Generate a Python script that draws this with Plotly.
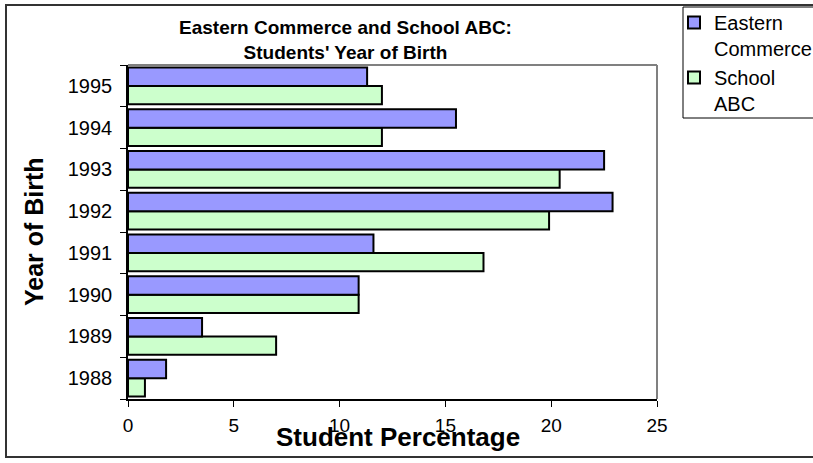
import plotly.graph_objects as go

years = ["1988", "1989", "1990", "1991", "1992", "1993", "1994", "1995"]
eastern = [1.8, 3.5, 10.9, 11.6, 22.9, 22.5, 15.5, 11.3]
school = [0.8, 7.0, 10.9, 16.8, 19.9, 20.4, 12.0, 12.0]
x_ticks = [0, 5, 10, 15, 20, 25]

W, H = 813, 463
L, R, T, B = 128, 657, 65, 399

def px(x):
    return (x - L) / (R - L)

def py(y):
    return (B - y) / (B - T)

FONT = "Liberation Sans, Arial, sans-serif"

fig = go.Figure()
fig.add_trace(go.Bar(
    y=years, x=school, orientation="h", name="School<br>ABC",
    marker=dict(color="#CCFFCC", line=dict(color="black", width=2)),
))
fig.add_trace(go.Bar(
    y=years, x=eastern, orientation="h", name="Eastern<br>Commerce",
    marker=dict(color="#9999FF", line=dict(color="black", width=2)),
))

fig.update_layout(
    width=W, height=H,
    margin=dict(l=L, r=W - R, t=T, b=H - B, autoexpand=False),
    paper_bgcolor="white", plot_bgcolor="white",
    barmode="group", bargap=0.12, bargroupgap=0,
    font=dict(family=FONT, size=16, color="black"),
    showlegend=True,
    legend=dict(
        x=px(674), y=py(3), xanchor="left", yanchor="top",
        traceorder="reversed", valign="top",
        font=dict(family=FONT, size=20, color="black"),
        bgcolor="rgba(0,0,0,0)", borderwidth=0,
        itemclick=False,
    ),
    xaxis=dict(
        range=[0, 25], tickvals=x_ticks, ticktext=[str(v) for v in x_ticks],
        showline=True, linecolor="black", linewidth=1.5,
        ticks="outside", ticklen=6, tickcolor="black", tickwidth=1,
        showgrid=False, zeroline=False, fixedrange=True,
        tickfont=dict(size=19), ticklabelstandoff=2,
    ),
    yaxis=dict(
        type="category", categoryorder="array", categoryarray=years,
        showline=True, linecolor="black", linewidth=1.5,
        ticks="outside", ticklen=6, tickcolor="black", tickwidth=1,
        tickson="boundaries", showgrid=False, zeroline=False,
        tickfont=dict(size=20), ticklabelstandoff=10, fixedrange=True,
    ),
    annotations=[
        dict(text="<b>Eastern Commerce and School ABC:<br>Students' Year of Birth</b>",
             xref="paper", yref="paper", x=px(345), y=py(40), showarrow=False,
             font=dict(family=FONT, size=19), xanchor="center", yanchor="middle"),
        dict(text="<b>Student Percentage</b>", xref="paper", yref="paper",
             x=px(398), y=py(437), showarrow=False,
             font=dict(family=FONT, size=26), xanchor="center", yanchor="middle"),
        dict(text="<b>Year of Birth</b>", xref="paper", yref="paper",
             x=px(34), y=py(232), showarrow=False, textangle=-90,
             font=dict(family=FONT, size=25), xanchor="center", yanchor="middle"),
    ],
    shapes=[
        # outer chart border
        dict(type="rect", xref="paper", yref="paper", x0=px(6), x1=px(830),
             y0=py(457), y1=py(5), line=dict(color="#333333", width=2), layer="below"),
        # legend box
        dict(type="rect", xref="paper", yref="paper", x0=px(683), x1=px(840),
             y0=py(118), y1=py(7), line=dict(color="black", width=1), layer="below"),
        # plot area top/right borders
        dict(type="line", xref="paper", yref="paper", x0=0, x1=1, y0=1, y1=1,
             line=dict(color="#808080", width=2)),
        dict(type="line", xref="paper", yref="paper", x0=1, x1=1, y0=0, y1=1,
             line=dict(color="#808080", width=2)),
    ],
)

fig.write_html("out.html")
